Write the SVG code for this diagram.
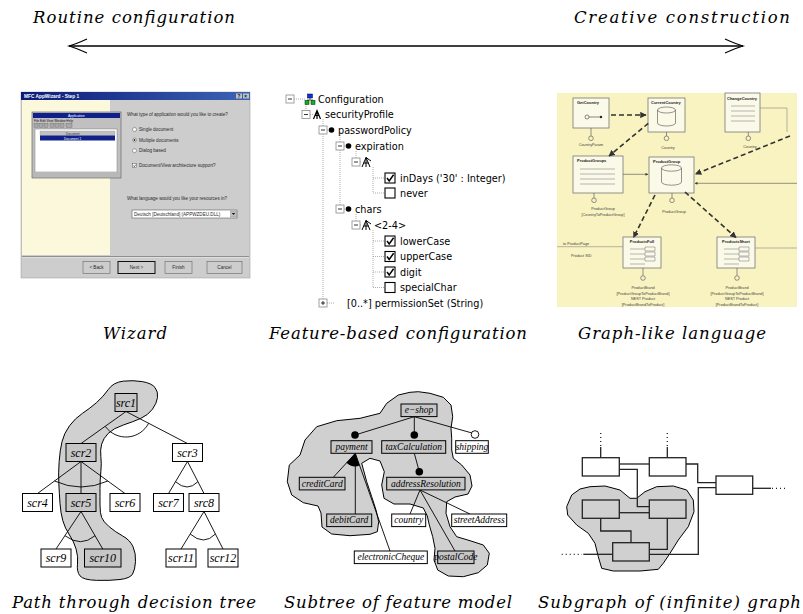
<svg xmlns="http://www.w3.org/2000/svg" width="803" height="614" viewBox="0 0 803 614">
<style>
.cap{font-family:"DejaVu Serif","Liberation Serif",serif;font-style:italic;font-size:16.5px;fill:#000}
.tl{font-family:"DejaVu Sans","Liberation Sans",sans-serif;font-size:9.7px;fill:#000}
.exp{fill:#fff;stroke:#8a8a8a;stroke-width:0.8}
.dot{stroke:#9a9a9a;stroke-width:0.8;stroke-dasharray:1 1;fill:none}
.cb{fill:#fff;stroke:#000;stroke-width:1.1}
.ck{fill:none;stroke:#000;stroke-width:1.5}
.dt{font-family:"Liberation Serif","Times New Roman",serif;font-style:italic;font-size:12px;text-anchor:middle;fill:#000}
.fm{font-family:"Liberation Serif","Times New Roman",serif;font-style:italic;font-size:9.5px;text-anchor:middle;fill:#000}
.blob{fill:#d0d0d0;stroke:#000;stroke-width:1}
.gb{fill:#c6c6c6;stroke:#000;stroke-width:1}
.wb{fill:#fff;stroke:#000;stroke-width:1}
.edge{stroke:#000;stroke-width:0.9;fill:none}
.sg{stroke:#222;stroke-width:1.3;fill:none}
.sgb{stroke:#222;stroke-width:1.3}
.wz{font-family:"Liberation Sans",Arial,sans-serif;font-size:4.6px;fill:#2a2a2a}
.gl{font-family:"Liberation Sans",Arial,sans-serif;font-size:3.8px;fill:#444}
.glb{font-family:"Liberation Sans",Arial,sans-serif;font-size:4px;font-weight:bold;fill:#222}
.gbox{fill:#fbfae9;stroke:#777;stroke-width:0.8}
.gline{stroke:#888;stroke-width:0.6;fill:none}
.dash{stroke:#333;stroke-width:1.6;stroke-dasharray:5 3;fill:none}
</style>
<defs>
<linearGradient id="tb" x1="0" y1="0" x2="1" y2="0"><stop offset="0" stop-color="#0a1a78"/><stop offset="1" stop-color="#3c64b4"/></linearGradient>
<marker id="ah" viewBox="0 0 10 10" refX="9" refY="5" markerWidth="4" markerHeight="4" orient="auto"><path d="M0,0 L10,5 L0,10 Z" fill="#333"/></marker>
</defs>

<!-- Top scale -->
<g id="scale">
<text class="cap" x="33" y="23" textLength="202">Routine configuration</text>
<text class="cap" x="574" y="23" textLength="216">Creative construction</text>
<line x1="69" y1="46" x2="743" y2="46" stroke="#000" stroke-width="1.3"/>
<path d="M87,39 Q76,44 69,46 Q76,48 87,53" fill="none" stroke="#000" stroke-width="1.2"/>
<path d="M725,39 Q736,44 743,46 Q736,48 725,53" fill="none" stroke="#000" stroke-width="1.2"/>
</g>

<!-- Wizard screenshot -->
<g id="wizard">
<rect x="21" y="92" width="229" height="186" fill="#cdcdcd" stroke="#999" stroke-width="0.5"/>
<rect x="21" y="92" width="229" height="8" fill="url(#tb)"/>
<text x="24" y="98.2" font-family="Liberation Sans,Arial,sans-serif" font-size="4.8" font-weight="bold" fill="#fff">MFC AppWizard - Step 1</text>
<rect x="236" y="93.5" width="6" height="5" fill="#c0c0c0"/><rect x="243" y="93.5" width="6" height="5" fill="#c0c0c0"/>
<text x="237.5" y="97.7" font-family="Liberation Sans,sans-serif" font-size="4.5" font-weight="bold">?</text>
<text x="244.2" y="97.7" font-family="Liberation Sans,sans-serif" font-size="4.5" font-weight="bold">×</text>
<rect x="22" y="100" width="88" height="155" fill="#fbf8dc"/>
<rect x="32" y="112" width="89" height="66" fill="#c0c0c0" stroke="#555" stroke-width="0.6"/>
<rect x="33" y="113" width="87" height="5" fill="#10208a"/>
<text x="68" y="117" font-family="Liberation Sans,sans-serif" font-size="3.4" fill="#fff">Application</text>
<text x="34" y="121.7" font-family="Liberation Sans,sans-serif" font-size="3.2" fill="#111">File Edit View Window Help</text>
<g fill="#a8a8a8" stroke="#555" stroke-width="0.3">
<rect x="34" y="123.3" width="4" height="4"/><rect x="39" y="123.3" width="4" height="4"/><rect x="44" y="123.3" width="4" height="4"/><rect x="50" y="123.3" width="4" height="4"/><rect x="55" y="123.3" width="4" height="4"/><rect x="60" y="123.3" width="4" height="4"/><rect x="66" y="123.3" width="6" height="4"/>
</g>
<rect x="35" y="129" width="82" height="43" fill="#fff" stroke="#666" stroke-width="0.4"/>
<rect x="40" y="131" width="75" height="4.5" fill="#c0c0c0" stroke="#888" stroke-width="0.3"/>
<text x="66" y="134.5" font-family="Liberation Sans,sans-serif" font-size="3" fill="#333">Document</text>
<rect x="40" y="135.5" width="75" height="5" fill="#10208a"/>
<text x="64" y="139.5" font-family="Liberation Sans,sans-serif" font-size="3.2" fill="#fff">Document 1</text>
<rect x="33" y="172" width="87" height="5" fill="#b8b8b8"/>
<text class="wz" x="127" y="116">What type of application would you like to create?</text>
<circle cx="134.5" cy="129.5" r="2" fill="#fff" stroke="#555" stroke-width="0.5"/>
<text class="wz" x="139" y="131.2">Single document</text>
<circle cx="134.5" cy="140" r="2" fill="#fff" stroke="#555" stroke-width="0.5"/><circle cx="134.5" cy="140" r="0.9" fill="#111"/>
<text class="wz" x="139" y="141.7">Multiple documents</text>
<circle cx="134.5" cy="150.7" r="2" fill="#fff" stroke="#555" stroke-width="0.5"/>
<text class="wz" x="139" y="152.4">Dialog based</text>
<rect x="132.5" y="163.5" width="4" height="4" fill="#fff" stroke="#555" stroke-width="0.5"/>
<path d="M133.3,165.5 l1,1.2 l1.6,-2.2" fill="none" stroke="#111" stroke-width="0.6"/>
<text class="wz" x="139" y="167.3">Document/View architecture support?</text>
<text class="wz" x="127" y="199.5">What language would you like your resources in?</text>
<rect x="132" y="210" width="105" height="8" fill="#fff" stroke="#444" stroke-width="0.5"/>
<text class="wz" x="134" y="215.8" font-size="4.3">Deutsch [Deutschland] (APPWZDEU.DLL)</text>
<rect x="230.5" y="211" width="6" height="6" fill="#c0c0c0" stroke="#666" stroke-width="0.3"/>
<path d="M231.8,213 h3.4 l-1.7,2 z" fill="#111"/>
<line x1="22" y1="256.5" x2="249" y2="256.5" stroke="#777" stroke-width="0.8"/>
<line x1="22" y1="257.4" x2="249" y2="257.4" stroke="#eee" stroke-width="0.6"/>
<rect x="83" y="261.5" width="27" height="12" fill="#cdcdcd" stroke="#666" stroke-width="0.6"/>
<text class="wz" x="96.5" y="269.2" text-anchor="middle">&lt; Back</text>
<rect x="118" y="261.5" width="37" height="12" fill="#cdcdcd" stroke="#111" stroke-width="1"/>
<text class="wz" x="136.5" y="269.2" text-anchor="middle">Next &gt;</text>
<rect x="165" y="261.5" width="27" height="12" fill="#cdcdcd" stroke="#666" stroke-width="0.6"/>
<text class="wz" x="178.5" y="269.2" text-anchor="middle">Finish</text>
<rect x="207" y="261.5" width="35" height="12" fill="#cdcdcd" stroke="#666" stroke-width="0.6"/>
<text class="wz" x="224.5" y="269.2" text-anchor="middle">Cancel</text>
</g>

<!-- Feature-based configuration tree -->
<g id="configtree">
<g class="dot">
<path d="M294,99 H305"/>
<path d="M306,104 V110.5 M310,114.5 H313"/>
<path d="M323,119 V126 M327,130 H329"/>
<path d="M323,134 V299 M327,303 H334"/>
<path d="M340,135 V142 M344,146 H346 M340,150 V205 M344,209 H346"/>
<path d="M356,151 V158 M360,162 H362 M356,214 V221 M360,225 H362"/>
<path d="M373,167 V193 M373,178 H385 M373,193 H385"/>
<path d="M373,230 V287.5 M373,241 H385 M373,256.5 H385 M373,272 H385 M373,287.5 H385"/>
</g>
<g id="expanders">
<rect class="exp" x="286" y="95" width="8" height="8"/><path d="M288,99 H292" stroke="#000" stroke-width="0.8"/>
<rect class="exp" x="302" y="110.5" width="8" height="8"/><path d="M304,114.5 H308" stroke="#000" stroke-width="0.8"/>
<rect class="exp" x="319" y="126" width="8" height="8"/><path d="M321,130 H325" stroke="#000" stroke-width="0.8"/>
<rect class="exp" x="336" y="142" width="8" height="8"/><path d="M338,146 H342" stroke="#000" stroke-width="0.8"/>
<rect class="exp" x="352" y="158" width="8" height="8"/><path d="M354,162 H358" stroke="#000" stroke-width="0.8"/>
<rect class="exp" x="336" y="205" width="8" height="8"/><path d="M338,209 H342" stroke="#000" stroke-width="0.8"/>
<rect class="exp" x="352" y="221" width="8" height="8"/><path d="M354,225 H358" stroke="#000" stroke-width="0.8"/>
<rect class="exp" x="319" y="299" width="8" height="8"/><path d="M321,303 H325 M323,301 V305" stroke="#000" stroke-width="0.8"/>
</g>
<g id="icons">
<path d="M310,98 V100 M307,100 H313 M307,100 V101 M313,100 V101" stroke="#333" stroke-width="0.7" fill="none"/>
<rect x="307.5" y="94" width="5" height="4" fill="#1030e0" stroke="#002" stroke-width="0.5"/>
<rect x="305" y="100.5" width="4" height="4" fill="#10b020" stroke="#020" stroke-width="0.5"/>
<rect x="311" y="100.5" width="4" height="4" fill="#10b020" stroke="#020" stroke-width="0.5"/>
<path d="M313.5,119 L317,110.5 L320.5,119 M317,110.5 V119 M315.2,115.5 H318.8" stroke="#000" stroke-width="1.2" fill="none"/>
<circle cx="331.5" cy="130" r="2.8" fill="#000"/>
<circle cx="348.5" cy="146" r="2.8" fill="#000"/>
<circle cx="348.5" cy="209" r="2.8" fill="#000"/>
<path d="M362,167 L366,157.5 L370,167 M366,157.5 L366,167 M363.5,163 L368.5,163 M366,157.5 L371,161" stroke="#000" stroke-width="1" fill="none"/>
<path d="M362,230 L366,220.5 L370,230 M366,220.5 L366,230 M363.5,226 L368.5,226 M366,220.5 L371,224" stroke="#000" stroke-width="1" fill="none"/>
</g>
<g id="checks">
<rect class="cb" x="385" y="173" width="10" height="10"/><path class="ck" d="M387,178 l2.2,3 l4.4,-6.2"/>
<rect class="cb" x="385" y="188" width="10" height="10"/>
<rect class="cb" x="385" y="236" width="10" height="10"/><path class="ck" d="M387,241 l2.2,3 l4.4,-6.2"/>
<rect class="cb" x="385" y="251.5" width="10" height="10"/><path class="ck" d="M387,256.5 l2.2,3 l4.4,-6.2"/>
<rect class="cb" x="385" y="267" width="10" height="10"/><path class="ck" d="M387,272 l2.2,3 l4.4,-6.2"/>
<rect class="cb" x="385" y="282.5" width="10" height="10"/>
</g>
<text class="tl" x="318" y="102.5">Configuration</text>
<text class="tl" x="325" y="118">securityProfile</text>
<text class="tl" x="338" y="133.5">passwordPolicy</text>
<text class="tl" x="355" y="149.5">expiration</text>
<text class="tl" x="400" y="181.5">inDays ('30' : Integer)</text>
<text class="tl" x="400" y="196.5">never</text>
<text class="tl" x="355" y="212.5">chars</text>
<text class="tl" x="374" y="228.5">&lt;2-4&gt;</text>
<text class="tl" x="400" y="244.5">lowerCase</text>
<text class="tl" x="400" y="260">upperCase</text>
<text class="tl" x="400" y="275.5">digit</text>
<text class="tl" x="400" y="291">specialChar</text>
<text class="tl" x="347" y="306.5">[0..*] permissionSet (String)</text>
</g>

<!-- Graph-like language screenshot -->
<g id="graphlike">
<rect x="557" y="93" width="240" height="214" fill="#f8f3c0"/>
<g id="gl-getcountry">
<rect class="gbox" x="573" y="98" width="36" height="30"/>
<text class="glb" x="577" y="103.5">GetCountry</text>
<circle cx="587" cy="117" r="2" fill="none" stroke="#555" stroke-width="0.7"/>
<line x1="589" y1="117" x2="600" y2="117" stroke="#555" stroke-width="0.7"/>
<circle cx="601" cy="117" r="1.2" fill="#222"/>
</g>
<g id="gl-currentcountry">
<rect class="gbox" x="648" y="98" width="37" height="34"/>
<text class="glb" x="651" y="103.5">CurrentCountry</text>
<path d="M657.5,110 v13 a9,3 0 0 0 18,0 v-13" fill="none" stroke="#666" stroke-width="0.7"/>
<ellipse cx="666.5" cy="110" rx="9" ry="3" fill="none" stroke="#666" stroke-width="0.7"/>
</g>
<g id="gl-changecountry">
<rect class="gbox" x="725" y="93" width="35" height="39"/>
<text class="glb" x="727" y="99.5">ChangeCountry</text>
<path class="gline" d="M731,106 H755 M731,111 H755 M731,116 H755 M731,121 H755"/>
</g>
<path class="gline" d="M760,108 H787 V132" stroke="#777"/>
<g id="gl-lollipops1" fill="none" stroke="#666" stroke-width="0.7">
<path d="M591,128 V136"/><circle cx="591" cy="138.3" r="2.3"/>
<path d="M666.5,132 V136"/><circle cx="666.5" cy="138.3" r="2.3"/>
<path d="M748.3,132 V136"/><circle cx="748.3" cy="138.3" r="2.3"/>
</g>
<text class="gl" x="591" y="146.3" text-anchor="middle">CountryParam</text>
<text class="gl" x="668" y="148.5" text-anchor="middle">Country</text>
<text class="gl" x="750" y="147.5" text-anchor="middle">Country</text>
<g id="gl-productgroups">
<rect class="gbox" x="573" y="156" width="50" height="37"/>
<text class="glb" x="577" y="162">ProductGroups</text>
<path class="gline" d="M580,169 H615 M580,174 H615 M580,179 H615 M580,184 H615"/>
</g>
<g id="gl-productgroup">
<rect class="gbox" x="649" y="157" width="45" height="36"/>
<text class="glb" x="653" y="163">ProductGroup</text>
<path d="M661.5,168 v14 a10,3.2 0 0 0 20,0 v-14" fill="none" stroke="#666" stroke-width="0.7"/>
<ellipse cx="671.5" cy="168" rx="10" ry="3.2" fill="none" stroke="#666" stroke-width="0.7"/>
</g>
<g fill="none" stroke="#666" stroke-width="0.7">
<path d="M594,193 V198"/><circle cx="594" cy="200.3" r="2.3"/>
<path d="M672,193 V198"/><circle cx="672" cy="200.3" r="2.3"/>
</g>
<text class="gl" x="603" y="210" text-anchor="middle">ProductGroup</text>
<text class="gl" x="603" y="215.5" text-anchor="middle">[CountryToProductGroup]</text>
<text class="gl" x="674" y="212.5" text-anchor="middle">ProductGroup</text>
<g id="gl-productsfull">
<rect class="gbox" x="623" y="237" width="38" height="31"/>
<text class="glb" x="642" y="243" text-anchor="middle">ProductsFull</text>
<path class="gline" d="M630,249 H645 M630,254 H645 M630,259 H645 M630,264 H645"/>
<path class="gline" d="M645,247 h10 v4 h-10 z M645,252 h10 v4 h-10 z M645,257 h10 v4 h-10 z"/>
</g>
<g id="gl-productsshort">
<rect class="gbox" x="717" y="237" width="38" height="31"/>
<text class="glb" x="736" y="243" text-anchor="middle">ProductsShort</text>
<path class="gline" d="M724,249 H739 M724,254 H739 M724,259 H739 M724,264 H739"/>
<path class="gline" d="M739,247 h10 v4 h-10 z M739,252 h10 v4 h-10 z M739,257 h10 v4 h-10 z"/>
</g>
<g fill="none" stroke="#666" stroke-width="0.7">
<path d="M643,268 V275.5"/><circle cx="643" cy="278" r="2.3"/>
<path d="M737,268 V275.5"/><circle cx="737" cy="278" r="2.3"/>
</g>
<text class="gl" x="643" y="289" text-anchor="middle">ProductBrand</text>
<text class="gl" x="643" y="294.5" text-anchor="middle">[ProductGroupToProductBrand]</text>
<text class="gl" x="643" y="300" text-anchor="middle">NEST Product</text>
<text class="gl" x="643" y="305.5" text-anchor="middle">[ProductBrandToProduct]</text>
<text class="gl" x="737" y="289" text-anchor="middle">ProductBrand</text>
<text class="gl" x="737" y="294.5" text-anchor="middle">[ProductGroupToProductBrand]</text>
<text class="gl" x="737" y="300" text-anchor="middle">NEST Product</text>
<text class="gl" x="737" y="305.5" text-anchor="middle">[ProductBrandToProduct]</text>
<path d="M557,246.7 H623" stroke="#888" stroke-width="0.6"/>
<text class="gl" x="563" y="244.5">to ProductPage</text>
<text class="gl" x="571" y="256.5">Product SID</text>
<path d="M755,248 H797" stroke="#888" stroke-width="0.6"/>
<path d="M623,174.3 H648" stroke="#666" stroke-width="0.7" marker-end="url(#ah)"/>
<path d="M797,183.3 H695" stroke="#666" stroke-width="0.7" marker-end="url(#ah)"/>
<path class="dash" d="M611,115 H646" marker-end="url(#ah)"/>
<path class="dash" d="M648.3,123.3 L609,156" marker-end="url(#ah)"/>
<path class="dash" d="M790,136 L695.5,174" marker-end="url(#ah)"/>
<path class="dash" d="M655,195 L633.5,237.5" marker-end="url(#ah)"/>
<path class="dash" d="M685,192 L736,237.5" marker-end="url(#ah)"/>
</g>

<!-- Captions row 1 -->
<text class="cap" x="103" y="339" textLength="64">Wizard</text>
<text class="cap" x="269" y="339" textLength="258">Feature-based configuration</text>
<text class="cap" x="578" y="339" textLength="188">Graph-like language</text>

<!-- Decision tree -->
<g id="decision-tree">
<path class="blob" d="M108.3,389.5 Q113.3,382.3 123.3,381.15 Q133.3,380 142.5,381.65 Q151.7,383.3 155,387.5 Q158.3,391.7 157.5,397.5 Q156.7,403.3 152.5,409.15 Q148.3,415 140.8,418.35 Q133.3,421.7 123.3,425 Q113.3,428.3 108.3,433.3 Q103.3,438.3 101.65,444.15 Q100,450 100.85,456.65 Q101.7,463.3 100.85,471.65 Q100,480 100,488.35 Q100,496.7 100,505 Q100,513.3 101.65,517.5 Q103.3,521.7 109.15,526.7 Q115,531.7 122.5,535.85 Q130,540 133,546.65 Q136,553.3 135.5,561.65 Q135,570 132.5,574.15 Q130,578.3 120,579.5 Q110,580.7 96.65,580.35 Q83.3,580 80,575.85 Q76.7,571.7 77.5,564.2 Q78.3,556.7 76.15,549.2 Q74,541.7 69.5,535 Q65,528.3 62.85,520.8 Q60.7,513.3 60,503.3 Q59.3,493.3 58.8,483.3 Q58.3,473.3 59.15,461.65 Q60,450 62,441.65 Q64,433.3 69.5,425.8 Q75,418.3 82.5,413.3 Q90,408.3 96.65,402.5 Q103.3,396.7 108.3,389.5 Z"/>
<g id="dt-edges" class="edge">
<path d="M126,411.5 L81,443.5 M126,411.5 L187.5,443.5"/>
<path d="M81,461.5 L37.5,493.5 M81,461.5 L81,493.5 M81,461.5 L125,493.5"/>
<path d="M187.5,461.5 L168.5,493.5 M187.5,461.5 L204,493.5"/>
<path d="M81,511.5 L56,549 M81,511.5 L102.75,549"/>
<path d="M204,511.5 L181,549 M204,511.5 L223,549"/>
<path d="M105.2,426.3 A25.5,25.5 0 0 0 148.6,423.3"/>
<path d="M54.5,481 Q81,493 107.8,481"/>
<path d="M175.5,481.7 Q187.5,492.3 197.9,481.7"/>
<path d="M64.9,535.7 Q81,547.7 95,535.7"/>
<path d="M190.2,534 Q204,546 215.4,534"/>
</g>
<g id="src1"><rect class="gb" x="115" y="393.5" width="22" height="18"/><text class="dt" x="126" y="406.5">src1</text></g>
<g id="scr2"><rect class="gb" x="66" y="443.5" width="30" height="18"/><text class="dt" x="81" y="456.5">scr2</text></g>
<g id="scr3"><rect class="wb" x="172.5" y="443.5" width="30" height="18"/><text class="dt" x="187.5" y="456.5">scr3</text></g>
<g id="scr4"><rect class="wb" x="22.5" y="493.5" width="30" height="18"/><text class="dt" x="37.5" y="506.5">scr4</text></g>
<g id="scr5"><rect class="gb" x="66" y="493.5" width="30" height="18"/><text class="dt" x="81" y="506.5">scr5</text></g>
<g id="scr6"><rect class="wb" x="110" y="493.5" width="30" height="18"/><text class="dt" x="125" y="506.5">scr6</text></g>
<g id="scr7"><rect class="wb" x="153.5" y="493.5" width="30" height="18"/><text class="dt" x="168.5" y="506.5">scr7</text></g>
<g id="src8"><rect class="wb" x="189" y="493.5" width="30" height="18"/><text class="dt" x="204" y="506.5">src8</text></g>
<g id="scr9"><rect class="wb" x="41" y="549" width="30" height="18"/><text class="dt" x="56" y="562">scr9</text></g>
<g id="scr10"><rect class="gb" x="84.5" y="549" width="36.5" height="18"/><text class="dt" x="102.75" y="562">scr10</text></g>
<g id="scr11"><rect class="wb" x="166" y="549" width="30" height="18"/><text class="dt" x="181" y="562">scr11</text></g>
<g id="scr12"><rect class="wb" x="208" y="549" width="30" height="18"/><text class="dt" x="223" y="562">scr12</text></g>
</g>

<!-- Feature model -->
<g id="feature-model">
<polygon class="blob" stroke-linejoin="round" points="418.3,391.7 430,393.3 443.3,397.3 451,405 452.7,416.7 451,428.3 451.7,438.3 451.7,450 453.3,458.3 461.7,465 470,475 472,486 468,494 455,497 446.7,501.7 446,513.3 450,526.7 456.7,536.7 470,540.7 483.3,545 489.3,553.3 487.3,565 478.3,572.7 463.3,576.7 448.3,576 437.7,570 434,560 435,548.3 432.7,536.7 429.3,525 427.3,516 423.3,508 410,504 394,504 384,498.3 381.7,485 384.3,471.7 380,461 370,458.3 361.7,463.3 366.7,481.7 371.7,496.7 376,510 378.7,521.7 377.3,531.7 370,534.3 350,535.7 331.7,534 322,527 321,513 318,506 303.3,502.7 291.7,495 287.3,481.7 289.3,465 300,455 305,440 316.7,426.7 336.7,420.7 360,418.3 380,413.3 386.7,403.3 398.3,395 410,392.3"/>
<g id="fm-edges" class="edge">
<path d="M414.3,416.7 L355,435 M414.3,416.7 L414.3,435 M414.3,416.7 L472,433"/>
<path d="M414.3,453.3 L419.3,471.7"/>
<path d="M355.3,453.3 L333.3,477.3 M355.3,453.3 L355.3,514 M355.3,453.3 L390,551"/>
<path d="M420,490 L410,514 M420,490 L470,514 M420,490 L455,551"/>
</g>
<path d="M355.3,453.3 L346.4,462.8 A13,13 0 0 0 359.7,465.5 Z" fill="#000"/>
<circle cx="355" cy="435" r="3.8" fill="#000"/>
<circle cx="414.3" cy="435" r="3.8" fill="#000"/>
<circle cx="475" cy="434.5" r="3.8" fill="#fff" stroke="#000" stroke-width="0.9"/>
<circle cx="419.3" cy="471.7" r="3.8" fill="#000"/>
<g id="e-shop"><rect class="gb" x="401" y="404" width="36" height="12.6"/><text class="fm" x="419" y="413.3">e−shop</text></g>
<g id="payment"><rect class="gb" x="331" y="440.7" width="41" height="12.6"/><text class="fm" x="351.5" y="450">payment</text></g>
<g id="taxCalculation"><rect class="gb" x="381.7" y="440.7" width="64" height="12.6"/><text class="fm" x="413.7" y="450">taxCalculation</text></g>
<g id="shipping"><rect class="wb" x="455.7" y="440.7" width="32.6" height="12.6"/><text class="fm" x="472" y="450">shipping</text></g>
<g id="creditCard"><rect class="gb" x="299.3" y="477.3" width="45.7" height="12.6"/><text class="fm" x="322.2" y="486.6">creditCard</text></g>
<g id="addressResolution"><rect class="gb" x="386.7" y="477.3" width="78.3" height="12.6"/><text class="fm" x="425.9" y="486.6">addressResolution</text></g>
<g id="debitCard"><rect class="gb" x="326.7" y="514" width="45" height="12.6"/><text class="fm" x="349.2" y="523.3">debitCard</text></g>
<g id="country"><rect class="wb" x="391.7" y="514" width="34" height="12.6"/><text class="fm" x="408.7" y="523.3">country</text></g>
<g id="streetAddress"><rect class="wb" x="451.7" y="514" width="55" height="12.6"/><text class="fm" x="479.2" y="523.3">streetAddress</text></g>
<g id="electronicCheque"><rect class="wb" x="354.3" y="551" width="73" height="12.6"/><text class="fm" x="390.8" y="560.3">electronicCheque</text></g>
<g id="postalCode"><rect class="gb" x="437.7" y="551" width="36.3" height="12.6"/><text class="fm" x="455.8" y="560.3">postalCode</text></g>
</g>

<!-- Subgraph -->
<g id="subgraph">
<polygon class="blob" stroke-linejoin="round" points="590,486.7 605,486 620,490 630,498.3 636.7,498.3 645,491.7 656.7,486.7 673.3,486 686.7,490 693.3,500 694,511.7 688.3,526.7 678.3,540 670,553.3 663.3,563.3 658.3,569.3 640,571 613.3,571 601.7,568.3 598.3,556.7 595,543.3 588.3,533.3 576.7,525 567.7,515 566.7,506.7 571.7,495 580,489"/>
<g id="sg-edges" class="sg">
<path d="M600.7,433 V447" stroke-dasharray="1 3"/>
<path d="M600.7,447 V457.7"/>
<path d="M667.3,433 V447" stroke-dasharray="1 3"/>
<path d="M667.3,447 V457.7"/>
<path d="M619.3,464 H649.3"/>
<path d="M619.3,469.3 H637.3 V506.7 H649.3"/>
<path d="M686,464 H697.7 V482.7 H716"/>
<path d="M716,487.7 H698.3 V554.3 H649.3"/>
<path d="M752.7,488.3 H771"/>
<path d="M772,488.3 H785" stroke-dasharray="1 3"/>
<path d="M619.3,512.7 H649.3"/>
<path d="M600.7,518.3 V531 H631 V542.7"/>
<path d="M667.3,518.3 V549.3 H649.3"/>
<path d="M583.3,554.3 H612.7"/>
<path d="M561.7,554.3 H582" stroke-dasharray="1 3"/>
</g>
<g id="sgA"><rect class="wb sgb" x="582.3" y="457.7" width="37" height="18.3"/></g>
<g id="sgB"><rect class="wb sgb" x="649.3" y="457.7" width="36.7" height="18.3"/></g>
<g id="sgC"><rect class="wb sgb" x="716" y="476" width="36.7" height="18.3"/></g>
<g id="sgD"><rect class="sgb" fill="#d0d0d0" x="582.3" y="500" width="37" height="18.3"/></g>
<g id="sgE"><rect class="sgb" fill="#d0d0d0" x="649.3" y="500" width="36.7" height="18.3"/></g>
<g id="sgF"><rect class="sgb" fill="#d0d0d0" x="612.7" y="542.7" width="36.6" height="18.3"/></g>
</g>

<!-- Captions row 2 -->
<text class="cap" x="12" y="607.5" textLength="244">Path through decision tree</text>
<text class="cap" x="284" y="607.5" textLength="228">Subtree of feature model</text>
<text class="cap" x="538" y="607.5" textLength="263">Subgraph of (infinite) graph</text>
</svg>
